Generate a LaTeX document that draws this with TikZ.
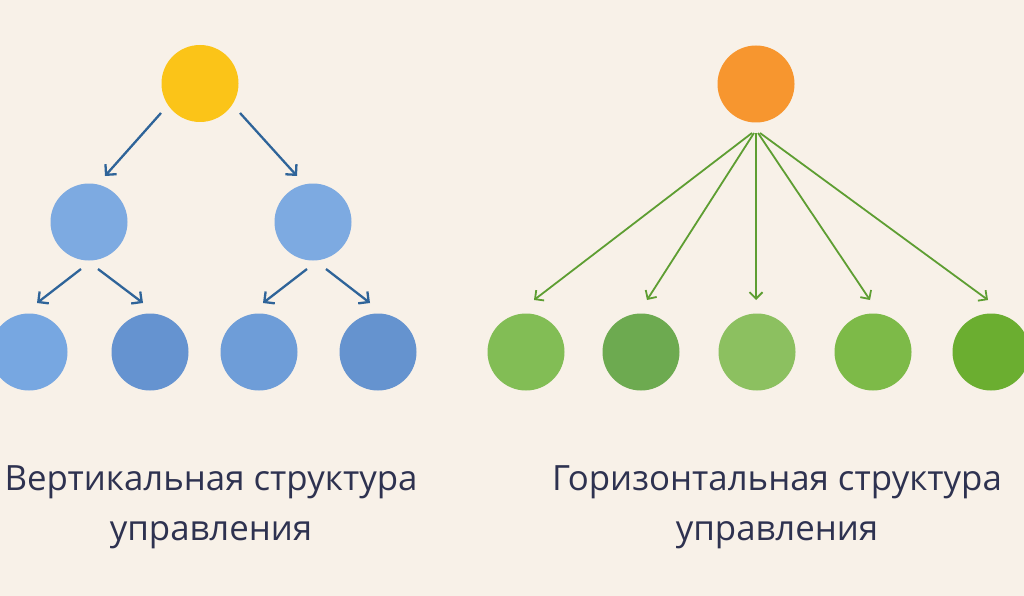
\documentclass[tikz,border=0pt]{standalone}
\usepackage{fontspec}
\setmainfont{Open Sans}
\usetikzlibrary{arrows.meta}
\definecolor{bg}{HTML}{F8F1E8}
\definecolor{txt}{HTML}{2E3250}
\definecolor{yel}{HTML}{FBC418}
\definecolor{org}{HTML}{F7962F}
\definecolor{bmid}{HTML}{7DAAE1}
\definecolor{bl1}{HTML}{77A7E1}
\definecolor{bl2}{HTML}{6593D0}
\definecolor{bl3}{HTML}{6E9DD8}
\definecolor{bl4}{HTML}{6593CF}
\definecolor{g1}{HTML}{82BD55}
\definecolor{g2}{HTML}{6DAA50}
\definecolor{g3}{HTML}{8CC060}
\definecolor{g4}{HTML}{7DBA48}
\definecolor{g5}{HTML}{6BAE30}
\definecolor{barrow}{HTML}{2F6499}
\definecolor{garrow}{HTML}{5E9E32}
\tikzset{
  dot/.style={circle, minimum size=77pt, inner sep=0pt, draw=none},
  barr/.style={draw=barrow, line width=2.3pt, -{Straight Barb[length=7.5pt,width=15pt,line width=2.3pt]}},
  garr/.style={draw=garrow, line width=1.8pt, -{Straight Barb[length=6.5pt,width=13pt,line width=1.8pt]}},
  caption/.style={text=txt, font=\fontsize{34.8}{50}\selectfont, align=center, inner sep=0pt}
}
\begin{document}
\begin{tikzpicture}[x=1pt,y=-1pt]
\fill[bg] (0,0) rectangle (1024,596);
\useasboundingbox (0,0) rectangle (1024,596);
% left tree
\node[dot, fill=yel] (top) at (200,83.5) {};
\node[dot, fill=bmid] (m1) at (89,222) {};
\node[dot, fill=bmid] (m2) at (313,222) {};
\node[dot, fill=bl1] (b1) at (29,352) {};
\node[dot, fill=bl2] (b2) at (150,352) {};
\node[dot, fill=bl3] (b3) at (259,352) {};
\node[dot, fill=bl4] (b4) at (378,352) {};
\coordinate (s1) at (161,113); \coordinate (e1) at (105,176);
\coordinate (s2) at (240,113); \coordinate (e2) at (297,176);
\coordinate (s3) at (81,269);  \coordinate (e3) at (37,303);
\coordinate (s4) at (98,269);  \coordinate (e4) at (143,303);
\coordinate (s5) at (307,269); \coordinate (e5) at (263,303);
\coordinate (s6) at (326,269); \coordinate (e6) at (370,303);
\draw[barr] (s1) -- (e1);
\draw[barr] (s2) -- (e2);
\draw[barr] (s3) -- (e3);
\draw[barr] (s4) -- (e4);
\draw[barr] (s5) -- (e5);
\draw[barr] (s6) -- (e6);
% right tree
\node[dot, fill=org] (rtop) at (756,84) {};
\node[dot, fill=g1] (h1) at (526,352) {};
\node[dot, fill=g2] (h2) at (641,352) {};
\node[dot, fill=g3] (h3) at (757,352) {};
\node[dot, fill=g4] (h4) at (873,352) {};
\node[dot, fill=g5] (h5) at (991,352) {};
\coordinate (r1) at (752,133); \coordinate (f1) at (534,300);
\coordinate (r2) at (754,133); \coordinate (f2) at (647,300);
\coordinate (r3) at (756,133); \coordinate (f3) at (756,300);
\coordinate (r4) at (758,133); \coordinate (f4) at (870,300);
\coordinate (r5) at (760,133); \coordinate (f5) at (988,300);
\foreach \i in {1,...,5} \draw[garr] (r\i) -- (f\i);
% captions
\node[caption, anchor=base] (capL) at (211,540) {Вертикальная структура\\управления};
\node[caption, anchor=base] (capR) at (777,540) {Горизонтальная структура\\управления};
\end{tikzpicture}
\end{document}
